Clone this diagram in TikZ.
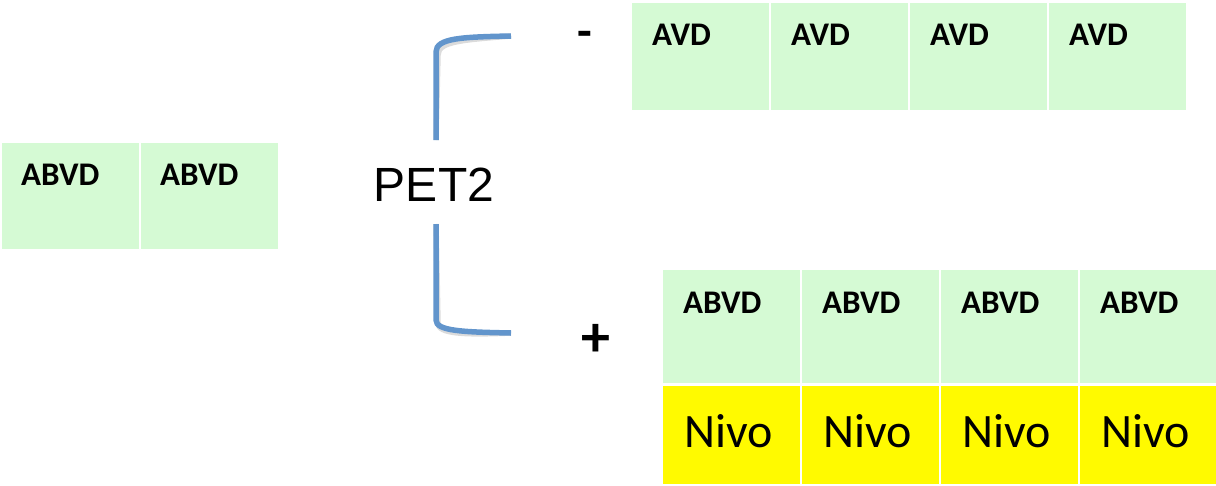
\documentclass[tikz,border=0pt]{standalone}
\usepackage{fontspec}
\setmainfont{Carlito}
\newfontfamily\arialf{Liberation Sans}
\definecolor{boxgreen}{RGB}{213,250,212}
\definecolor{boxyellow}{RGB}{255,250,0}
\definecolor{brblue}{RGB}{98,149,204}
\tikzset{
  gbox/.style={fill=boxgreen, draw=none, anchor=north west, inner sep=0pt, minimum width=137pt},
  ybox/.style={fill=boxyellow, draw=none, anchor=north west, inner sep=0pt, minimum width=137pt},
  btext/.style={anchor=west, inner sep=0pt, font=\fontsize{33}{38}\selectfont\bfseries},
  ntext/.style={anchor=center, inner sep=0pt, font=\fontsize{48}{56}\selectfont},
  bracketline/.style={draw=brblue, line width=5.5pt, line cap=butt},
  bracketshadow/.style={draw=black!40, opacity=0.35, line width=5.5pt},
}
\begin{document}
\begin{tikzpicture}[x=1pt,y=-1pt]
\useasboundingbox (0,0) rectangle (1216,485);
% left boxes
\node[gbox, minimum height=106pt] (L1) at (2,143) {};
\node[gbox, minimum height=106pt] (L2) at (141,143) {};
\node[btext] (L1t) at ([xshift=19pt,yshift=-32pt]L1.north west) {ABVD};
\node[btext] (L2t) at ([xshift=19pt,yshift=-32pt]L2.north west) {ABVD};
% top row
\foreach \i/\x in {1/632,2/771,3/910,4/1049}{
  \node[gbox, minimum height=107pt] (T\i) at (\x,3) {};
  \node[btext] (T\i t) at ([xshift=20pt,yshift=-32pt]T\i.north west) {AVD};
}
% bottom rows
\foreach \i/\x in {1/663,2/802,3/941,4/1080}{
  \node[gbox, minimum height=113pt] (B\i) at (\x,270) {};
  \node[btext] (B\i t) at ([xshift=20pt,yshift=-33pt]B\i.north west) {ABVD};
  \node[ybox, minimum height=98pt] (N\i) at (\x,386) {};
  \node[ntext] (N\i t) at ([xshift=-3pt,yshift=4pt]N\i.center) {Nivo};
}
% bracket
\coordinate (bt) at (511,36);
\coordinate (bm1) at (436,140);
\coordinate (bm2) at (436,224);
\coordinate (bb) at (511,333);
\begin{scope}[shift={(2,3)}]
\draw[bracketshadow] (bt) .. controls (462,37) and (436,38) .. (436,52) -- (bm1);
\draw[bracketshadow] (bm2) -- (436,320) .. controls (436,331) and (462,332) .. (bb);
\end{scope}
\draw[bracketline] (bt) .. controls (462,37) and (436,38) .. (436,52) -- (bm1);
\draw[bracketline] (bm2) -- (436,320) .. controls (436,331) and (462,332) .. (bb);
\node[font=\arialf\fontsize{48}{56}\selectfont, inner sep=0pt] (pet) at (434,185) {PET2};
\node[font=\fontsize{48}{56}\selectfont\bfseries, inner sep=0pt] (minus) at (585,39) {-};
\node[font=\fontsize{58}{66}\selectfont\bfseries, inner sep=0pt] (plus) at (596,340) {+};
\end{tikzpicture}
\end{document}
